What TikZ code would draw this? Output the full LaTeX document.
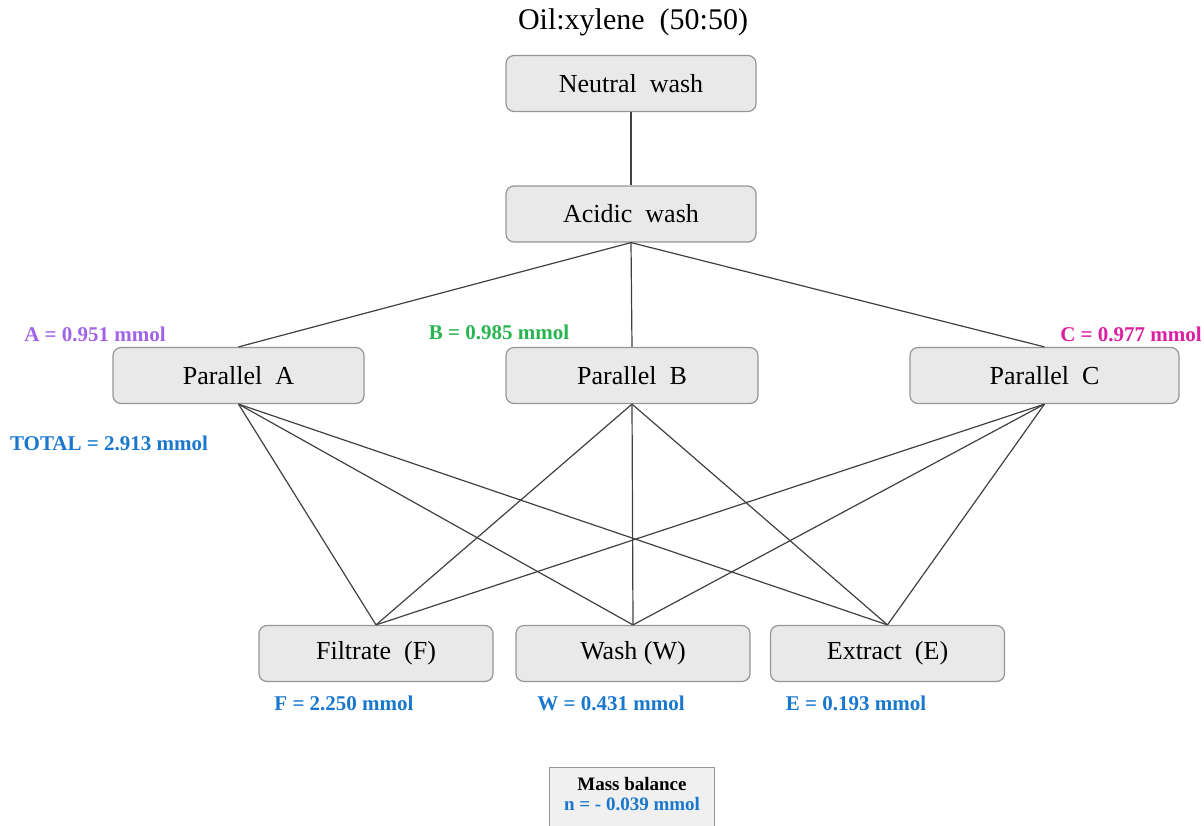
\documentclass[tikz,border=0pt]{standalone}
\usepackage{fontspec}
\setmainfont{Liberation Serif}
\usepackage{xcolor}
\usetikzlibrary{positioning}
\definecolor{labA}{RGB}{160,100,230}
\definecolor{labB}{RGB}{40,180,80}
\definecolor{labC}{RGB}{220,30,160}
\definecolor{labT}{RGB}{25,120,205}
\definecolor{boxfill}{RGB}{233,233,233}
\definecolor{boxline}{RGB}{150,150,150}

\tikzset{
  stage/.style={draw=boxline, fill=boxfill, rounded corners=4pt, minimum height=28pt, line width=0.6pt, font=\fontsize{13}{15}\selectfont},
  amount/.style={font=\fontsize{10.5}{12}\selectfont\bfseries},
  link/.style={draw=black!75, line width=0.6pt}
}

\begin{document}
\begin{tikzpicture}[x=0.5pt,y=-0.5pt]
\clip (0,0) rectangle (1204,825);

% Washes (top)
\node[font=\fontsize{15}{18}\selectfont] (title) at (633,22) {Oil:xylene~~(50:50)};
\node[stage, minimum width=125pt] (neutral) at (631,83.5) {Neutral~~wash};
\node[stage, minimum width=125pt] (acidic) at (631,214) {Acidic~~wash};

% Parallels
\node[stage, minimum width=125.5pt] (parA) at (238.5,375.5) {Parallel~~A};
\node[stage, minimum width=126pt] (parB) at (632,375.5) {Parallel~~B};
\node[stage, minimum width=134.5pt] (parC) at (1044.5,375.5) {Parallel~~C};

% Fractions (bottom)
\node[stage, minimum width=117pt] (filt) at (376,653.5) {Filtrate~~(F)};
\node[stage, minimum width=117pt] (wash) at (633,653.5) {Wash (W)};
\node[stage, minimum width=117pt] (extr) at (887.5,653.5) {Extract~~(E)};

% Connectors
\draw[link] (neutral) -- (acidic);
\foreach \p in {parA,parB,parC} {
    \draw[link] (acidic.south) -- (\p.north);
}
\foreach \p in {parA,parB,parC} {
    \foreach \f in {filt,wash,extr} {
        \draw[link] (\p.south) -- (\f.north);
    }
}

% Amounts
\node[amount, text=labA] (amtA) at (95,334) {A = 0.951 mmol};
\node[amount, text=labB] (amtB) at (499,332) {B = 0.985 mmol};
\node[amount, text=labC] (amtC) at (1131,334) {C = 0.977 mmol};
\node[amount, text=labT] (total) at (109,443) {TOTAL = 2.913 mmol};
\node[amount, text=labT] (amtF) at (344,703) {F = 2.250 mmol};
\node[amount, text=labT] (amtW) at (611,703) {W = 0.431 mmol};
\node[amount, text=labT] (amtE) at (856,703) {E = 0.193 mmol};

% Mass balance
\node[draw=boxline, fill=black!6, line width=0.6pt, anchor=north, minimum width=82.5pt, inner ysep=5pt, align=center,
      font=\fontsize{9.5}{10}\selectfont\bfseries] (mass) at (632,767)
      {Mass balance\\ \textcolor{labT}{n = - 0.039 mmol}\\[3pt]};
\end{tikzpicture}
\end{document}
